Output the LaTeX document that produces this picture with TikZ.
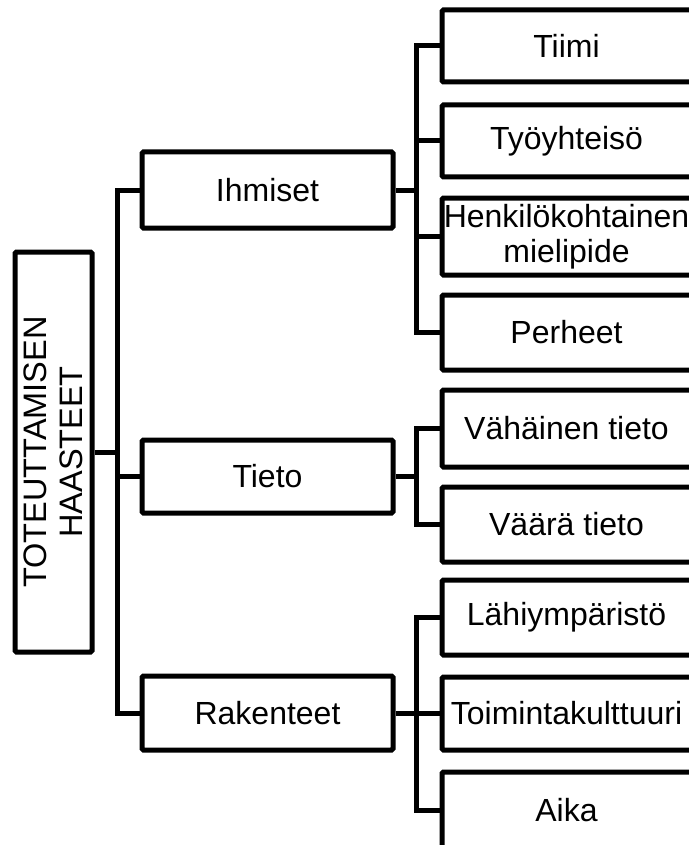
\documentclass[tikz,border=0pt]{standalone}
\usepackage{fontspec}
\setmainfont{Liberation Sans}
\newcommand\lfshift{\hspace*{-13pt}}
\begin{document}
\begin{tikzpicture}[x=1pt,y=-1pt,
  box/.style={draw=black, line width=5pt, rounded corners=1.5pt, fill=white, inner sep=0pt, align=center, font=\fontsize{32}{35}\selectfont},
  mid/.style={box, minimum width=251pt},
  leaf/.style={box, minimum width=262pt},
  link/.style={draw=black, line width=5pt, line join=miter}]
\path[use as bounding box, fill=white] (0,0) rectangle (688,845);
% root
\node[box, rotate=90, minimum width=400pt, minimum height=77pt, font=\fontsize{32.5}{35.5}\selectfont] (root) at (53.5,452) {TOTEUTTAMISEN\\HAASTEET};
% middle level
\node[mid, minimum height=76pt] (ihm) at (267.5,190) {Ihmiset};
\node[mid, minimum height=73pt] (tie) at (267.5,476.5) {Tieto};
\node[mid, minimum height=74pt] (rak) at (267.5,713) {Rakenteet};
% leaves (box runs past the right edge of the picture)
\node[leaf, minimum height=72pt] (tiimi) at (573,46) {\lfshift Tiimi};
\node[leaf, minimum height=72pt] (tyo) at (573,141) {\lfshift Työyhteisö};
\node[leaf, minimum height=77pt] (hen) at (573,236.5) {\lfshift Henkilökohtainen\\\lfshift mielipide};
\node[leaf, minimum height=75pt] (per) at (573,332.5) {\lfshift Perheet};
\node[leaf, minimum height=77pt] (vah) at (573,428.5) {\lfshift Vähäinen tieto};
\node[leaf, minimum height=75pt] (vaa) at (573,524.5) {\lfshift Väärä tieto};
\node[leaf, minimum height=75pt] (lah) at (573,617.5) {\lfshift Lähiympäristö};
\node[leaf, minimum height=73pt] (toi) at (573,713.5) {\lfshift Toimintakulttuuri};
\node[leaf, minimum height=76pt] (aika) at (573,810) {\lfshift Aika};
% trunk coordinates
\coordinate (tr) at (117,0);
\coordinate (br) at (416,0);
% root to middle
\draw[link] (root.south) -- (root.south -| tr);
\draw[link] (ihm.west) -- (ihm.west -| tr) |- (rak.west);
\draw[link] (tie.west) -- (tie.west -| tr);
% Ihmiset branch
\draw[link] (ihm.east) -- (ihm.east -| br);
\draw[link] (tiimi.west) -- (tiimi.west -| br) |- (per.west);
\draw[link] (tyo.west) -- (tyo.west -| br);
\draw[link] (hen.west) -- (hen.west -| br);
% Tieto branch
\draw[link] (tie.east) -- (tie.east -| br);
\draw[link] (vah.west) -- (vah.west -| br) |- (vaa.west);
% Rakenteet branch
\draw[link] (rak.east) -- (rak.east -| br);
\draw[link] (lah.west) -- (lah.west -| br) |- (aika.west);
\draw[link] (toi.west) -- (toi.west -| br);
\end{tikzpicture}
\end{document}
